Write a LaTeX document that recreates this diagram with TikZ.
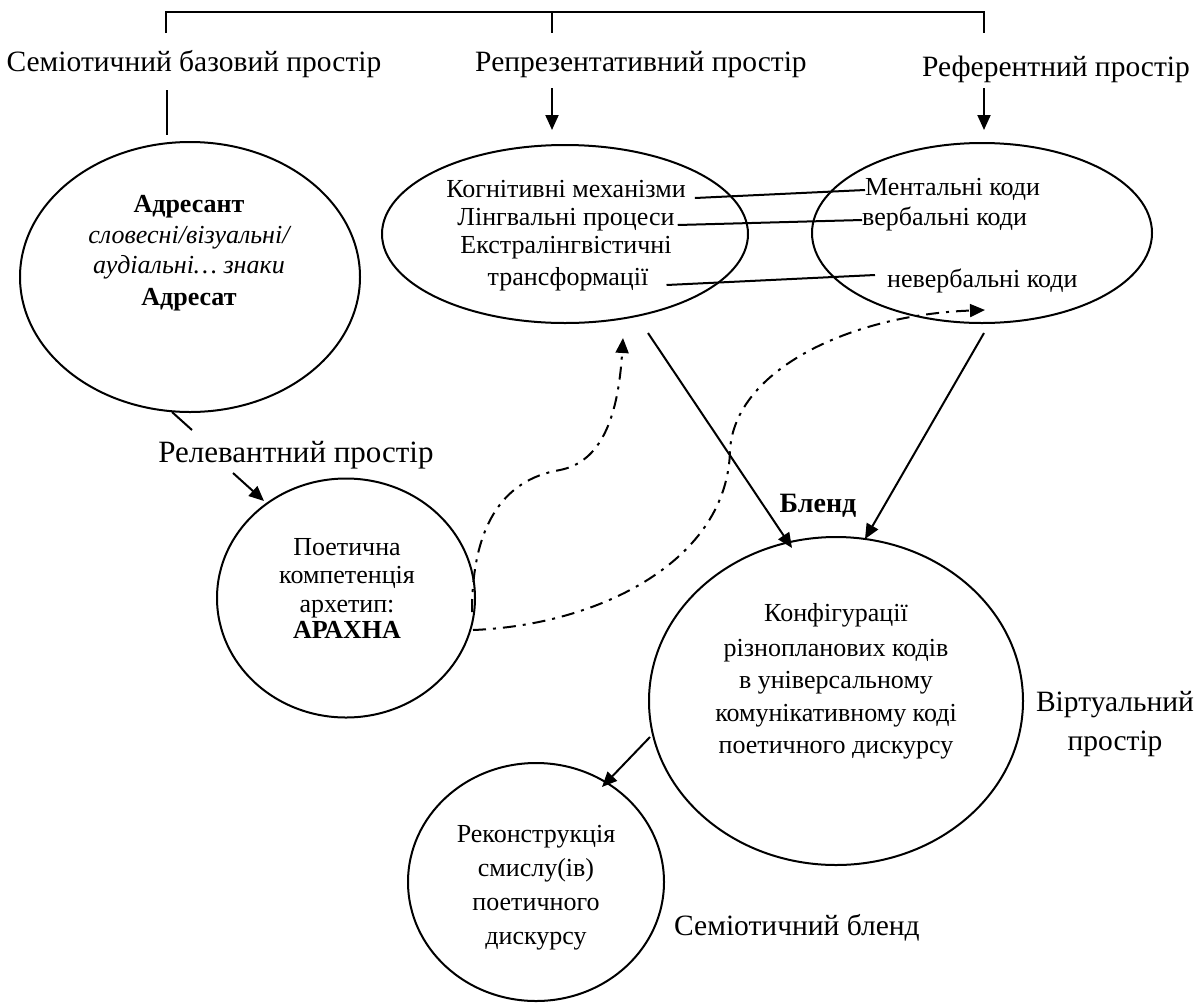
\documentclass[tikz,border=0pt]{standalone}
\usepackage{fontspec}
\setmainfont{Liberation Serif}
\usetikzlibrary{shapes.geometric,arrows.meta,calc}
\begin{document}
\begin{tikzpicture}[x=1pt,y=-1pt,
  ell/.style={draw, ellipse, line width=2pt, inner sep=0pt},
  txt/.style={anchor=base, inner sep=0pt, font=\fontsize{26}{30}\selectfont},
  txtw/.style={anchor=base west, inner sep=0pt, font=\fontsize{26}{30}\selectfont},
  lab/.style={anchor=base, inner sep=0pt, font=\fontsize{29.5}{34}\selectfont},
  conn/.style={line width=2pt},
  arr/.style={conn, -{Triangle[length=15pt,width=13pt]}},
  dd/.style={arr, dash pattern=on 13pt off 7pt on 3pt off 7pt}]
\useasboundingbox (0,0) rectangle (1199,1002);

% ellipses
\node[ell, minimum width=340pt, minimum height=270pt] (adr) at (190,277) {};
\node[ell, minimum width=366pt, minimum height=178pt] (rep) at (565,234) {};
\node[ell, minimum width=340pt, minimum height=180pt] (ref) at (982,233) {};
\node[ell, minimum width=258pt, minimum height=239pt] (poet) at (346,598) {};
\node[ell, minimum width=374pt, minimum height=328pt] (conf) at (836,701) {};
\node[ell, minimum width=256pt, minimum height=238pt] (rec) at (536,882) {};

% top labels
\node[lab] (l1) at (194,71) {Семіотичний базовий простір};
\node[lab] (l2) at (641,71) {Репрезентативний простір};
\node[lab] (l3) at (1056,76) {Референтний простір};
\node[lab, font=\fontsize{31}{36}\selectfont] (lrel) at (296,462) {Релевантний простір};
\node[lab, font=\fontsize{28}{34}\selectfont\bfseries] (lblend) at (818,512) {Бленд};
\node[lab] (lvirt1) at (1115,711) {Віртуальний};
\node[lab] (lvirt2) at (1115,750) {простір};
\node[lab, anchor=base west] (lsem) at (674,935) {Семіотичний бленд};

% addressant ellipse text
\node[txt, font=\fontsize{26}{30}\selectfont\bfseries] (a1) at (189,212) {Адресант};
\node[txt, font=\fontsize{26}{30}\selectfont\itshape] (a2) at (189,243) {словесні/візуальні/};
\node[txt, font=\fontsize{26}{30}\selectfont\itshape] (a3) at (189,273) {аудіальні… знаки};
\node[txt, font=\fontsize{26}{30}\selectfont\bfseries] (a4) at (189,305) {Адресат};

% representative ellipse text
\node[txt] (km) at (566,197) {Когнітивні механізми};
\node[txt] (lp) at (566,225) {Лінгвальні процеси};
\node[txt] (el) at (566,253) {Екстралінгвістичні};
\node[txt] (tr) at (568,285) {трансформації};

% referent ellipse text
\node[txtw] (mk) at (865,195) {Ментальні коди};
\node[txtw] (vk) at (862,225) {вербальні коди};
\node[txtw] (nk) at (887,287) {невербальні коди};

% poetic competence
\node[txt] (p1) at (347,555) {Поетична};
\node[txt] (p2) at (347,583) {компетенція};
\node[txt] (p3) at (347,612) {архетип:};
\node[txt, font=\fontsize{26}{30}\selectfont\bfseries] (p4) at (347,638) {АРАХНА};

% configuration text
\node[txt] (c1) at (836,621) {Конфігурації};
\node[txt] (c2) at (836,656) {різнопланових кодів};
\node[txt] (c3) at (836,688) {в універсальному};
\node[txt] (c4) at (836,721) {комунікативному коді};
\node[txt] (c5) at (836,753) {поетичного дискурсу};

% reconstruction text
\node[txt] (r1) at (536,842) {Реконструкція};
\node[txt] (r2) at (536,876) {смислу(ів)};
\node[txt] (r3) at (536,910) {поетичного};
\node[txt] (r4) at (536,944) {дискурсу};

% coordinates
\coordinate (bL) at (166,12);
\coordinate (bM) at (552,12);
\coordinate (bR) at (984,12);
\coordinate (bL2) at (166,33);
\coordinate (bM2) at (552,33);
\coordinate (bR2) at (984,33);
\coordinate (sL1) at (167,90);
\coordinate (sL2) at (167,135);
\coordinate (sM1) at (552,88);
\coordinate (sM2) at (552,130);
\coordinate (sR1) at (984,88);
\coordinate (sR2) at (984,130);
\coordinate (ad1) at (172,412);
\coordinate (ad2) at (192,430);
\coordinate (rl1) at (233,473);
\coordinate (rl2) at (264,501);
\coordinate (aA1) at (648,333);
\coordinate (aA2) at (792,548);
\coordinate (aB1) at (984,333);
\coordinate (aB2) at (865,539);
\coordinate (cr1) at (650,737);
\coordinate (cr2) at (602,787);
\coordinate (d1end) at (623,338);
\coordinate (d2end) at (985,310);
\coordinate (d1s) at (472,612);
\coordinate (d2s) at (473,630);

% bracket
\draw[conn] (bL2) -- (bL) -- (bR) -- (bR2);
\draw[conn] (bM) -- (bM2);
\draw[conn] (sL1) -- (sL2);
\draw[arr] (sM1) -- (sM2);
\draw[arr] (sR1) -- (sR2);

% text connectors
\draw[conn] ($(km.base east)+(9,1)$) -- ($(mk.base west)+(0,-5)$);
\draw[conn] ($(lp.base east)+(3,0)$) -- ($(vk.base west)+(0,-5)$);
\draw[conn] ($(tr.base east)+(18,0)$) -- ($(nk.base west)+(-12,-12)$);

% other connectors
\draw[conn] (ad1) -- (ad2);
\draw[arr] (rl1) -- (rl2);
\draw[arr] (aA1) -- (aA2);
\draw[arr] (aB1) -- (aB2);
\draw[arr] (cr1) -- (cr2);

% dash-dot curves
\draw[dd] (d1s) .. controls (472,530) and (500,480) .. (560,470)
               .. controls (600,462) and (618,420) .. (d1end);
\draw[dd] (d2s) .. controls (600,625) and (728,560) .. (730,450)
               .. controls (735,370) and (850,315) .. (d2end);
\end{tikzpicture}
\end{document}
